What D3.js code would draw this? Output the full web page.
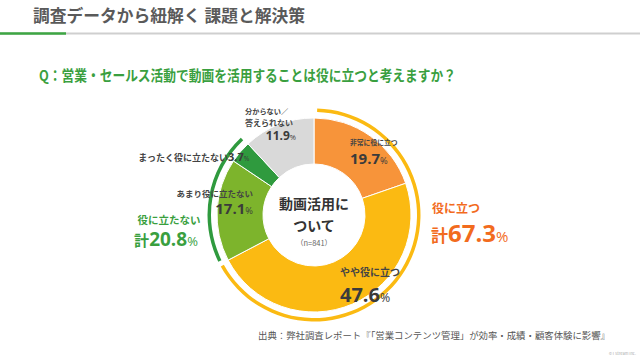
<!DOCTYPE html>
<html><head><meta charset="utf-8">
<script src="https://cdn.jsdelivr.net/npm/d3@7"></script>
<style>
body{margin:0;background:#fff;}
svg{display:block;font-family:"Noto Sans CJK JP","Noto Sans",sans-serif;}
</style></head>
<body>
<svg id="c" width="640" height="360"></svg>
<script>
const headerTitle = "調査データから紐解く 課題と解決策";
const question = "Q：営業・セールス活動で動画を活用することは役に立つと考えますか？";
const categories = ["非常に役に立つ","やや役に立つ","あまり役に立たない","まったく役に立たない","分からない／答えられない"];
const values = [19.7, 47.6, 17.1, 3.7, 11.9];
const colors = ["#F7943A","#FBBA12","#7DB42C","#2F9A3E","#D9D9D9"];
const positiveTotal = 67.3;
const negativeTotal = 20.8;
const sampleLabel = "（n=841）";
const sourceText = "出典：弊社調査レポート『「営業コンテンツ管理」が効率・成績・顧客体験に影響』";

const svg = d3.select("#c");
// header
svg.append("text").attr("x",33).attr("y",22).attr("font-size",16.5).attr("font-weight",700)
  .attr("fill","#5a5a5a").attr("textLength",272).attr("lengthAdjust","spacingAndGlyphs").text(headerTitle);
svg.append("line").attr("x1",0).attr("x2",640).attr("y1",33.5).attr("y2",33.5)
  .attr("stroke","#cfcfcf").attr("stroke-width",2);
svg.append("line").attr("x1",0).attr("x2",66).attr("y1",33.5).attr("y2",33.5)
  .attr("stroke","#3DA643").attr("stroke-width",2.5);
// question
svg.append("text").attr("x",39).attr("y",81).attr("font-size",14.5).attr("font-weight",700)
  .attr("fill","#3A9F3F").attr("textLength",417).attr("lengthAdjust","spacingAndGlyphs").text(question);

const cx = 314, cy = 215, R = 97, r = 51;
const g = svg.append("g").attr("transform",`translate(${cx},${cy})`);
const pie = d3.pie().sort(null).value(d=>d)(values);
const arc = d3.arc().innerRadius(r).outerRadius(R);
g.selectAll("path.s").data(pie).enter().append("path").attr("class","s")
  .attr("d",arc).attr("fill",(d,i)=>colors[i]).attr("stroke","#fff").attr("stroke-width",1);

// outer total arcs
const posEnd = pie[1].endAngle, negStart = pie[2].startAngle, negEnd = pie[3].endAngle;
const ring = d3.arc().innerRadius(103).outerRadius(106.5);
g.append("path").attr("d",ring({startAngle:0.03,endAngle:posEnd-0.02})).attr("fill","#FBBA12");
g.append("path").attr("d",ring({startAngle:negStart+0.03,endAngle:negEnd-0.01})).attr("fill","#2F9A3E");

// center text
g.append("text").attr("x",0).attr("y",-6).attr("text-anchor","middle").attr("font-size",14).attr("font-weight",700).attr("fill","#333").text("動画活用に");
g.append("text").attr("x",0).attr("y",16).attr("text-anchor","middle").attr("font-size",14).attr("font-weight",700).attr("fill","#333").text("ついて");
g.append("text").attr("x",0).attr("y",31).attr("text-anchor","middle").attr("font-size",7.5).attr("fill","#666").text(sampleLabel);

function pct(x, y, v, size, anchor){
  const t = svg.append("text").attr("x",x).attr("y",y).attr("text-anchor",anchor||"start")
    .attr("font-weight",700).attr("fill","#3b3b3b").attr("font-family","'Open Sans','Noto Sans',sans-serif");
  t.append("tspan").attr("font-size",size).text(v.toFixed(1));
  t.append("tspan").attr("font-size",size*0.62).attr("font-weight",400).text("%");
  return t;
}
function small(x,y,txt,size,anchor){
  svg.append("text").attr("x",x).attr("y",y).attr("text-anchor",anchor||"start").attr("font-size",size)
    .attr("font-weight",700).attr("fill","#444").text(txt);
}
// slice labels
small(350,145,categories[0],6.8);
pct(350,164,values[0],15);
small(340,276,categories[1],10);
pct(340,302,values[1],20);
small(253,197,categories[2],8.5,"end");
pct(253,214,values[2],15,"end");
small(228,161,categories[3],9,"end");
pct(228,161,values[3],11,"start");
small(245,114,"分からない／",7.2);
small(245,126,"答えられない",8);
pct(296,140,values[4],12,"end");

// totals
svg.append("text").attr("x",432).attr("y",213).attr("font-size",12).attr("font-weight",700).attr("fill","#F26B1D").text("役に立つ");
const tp = svg.append("text").attr("x",431).attr("y",242).attr("font-weight",700).attr("fill","#F26B1D");
tp.append("tspan").attr("font-size",17).text("計");
tp.append("tspan").attr("font-size",24).attr("font-family","'Open Sans',sans-serif").text(positiveTotal.toFixed(1));
tp.append("tspan").attr("font-size",15).attr("font-weight",400).attr("font-family","'Open Sans',sans-serif").text("%");

svg.append("text").attr("x",169).attr("y",224).attr("text-anchor","middle").attr("font-size",10.5).attr("font-weight",700).attr("fill","#3A9F3F").text("役に立たない");
const tn = svg.append("text").attr("x",166).attr("y",246).attr("text-anchor","middle").attr("font-weight",700).attr("fill","#3A9F3F");
tn.append("tspan").attr("font-size",15).text("計");
tn.append("tspan").attr("font-size",19).attr("font-family","'Open Sans',sans-serif").text(negativeTotal.toFixed(1));
tn.append("tspan").attr("font-size",13).attr("font-weight",400).attr("font-family","'Open Sans',sans-serif").text("%");

// source
svg.append("text").attr("x",258).attr("y",339).attr("font-size",9).attr("fill","#555")
  .attr("textLength",352).attr("lengthAdjust","spacingAndGlyphs").text(sourceText);
svg.append("text").attr("x",636).attr("y",355).attr("text-anchor","end").attr("font-size",4).attr("fill","#aaa").text("© I Stream Inc.");
</script>
</body></html>
